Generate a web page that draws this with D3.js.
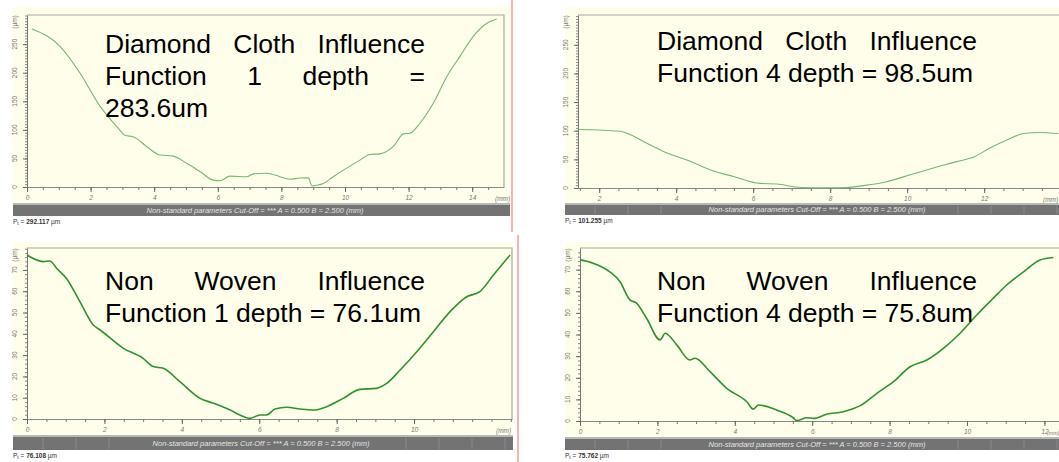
<!DOCTYPE html>
<html>
<head>
<meta charset="utf-8">
<script src="https://cdn.jsdelivr.net/npm/d3@7/dist/d3.min.js"></script>
<style>
  body { margin: 0; background: #fff; }
  svg { display: block; font-family: "Liberation Sans", Arial, sans-serif; }
</style>
</head>
<body>
<svg id="chart" width="1059" height="462"></svg>
<script>
// profile data (x in mm, depth in um)
const diamondF1X = [0.15, 1.04, 1.67, 2.3, 2.82, 3.1, 3.34, 3.76, 4.18, 4.6, 5.02, 5.44, 5.86, 6.07, 6.38, 6.91, 7.12, 7.54, 7.96, 8.28, 8.59, 8.85, 8.96, 9.11, 9.32, 9.63, 10.05, 10.47, 10.78, 11.1, 11.52, 11.84, 12.04, 12.36, 12.78, 13.2, 13.62, 14.04, 14.45, 14.77];
const diamondF1Y = [277, 246, 199, 141, 106, 90, 88, 71, 56, 54, 41.5, 27, 12, 11, 19, 18, 23, 24, 18, 13.5, 15.8, 16, 2, 3, 6, 18, 33, 47, 57, 58, 71, 93, 94, 112, 147, 193, 229, 264, 286, 294];

const diamondF4X = [1.46, 2.55, 2.81, 3.24, 3.76, 4.28, 4.88, 5.49, 6.18, 6.62, 7.22, 7.91, 8.43, 8.95, 9.47, 10.08, 10.68, 11.29, 11.76, 12.15, 12.59, 13.02, 13.45, 13.93];
const diamondF4Y = [102, 99, 93, 78, 61, 49, 32, 20, 8, 7, 1, 0.5, 1, 5, 11, 23, 35, 46, 55, 70, 84, 95, 97, 95];

const wovenF1X = [0, 0.42, 0.59, 0.77, 1.02, 1.37, 1.72, 1.89, 2.49, 3.0, 3.26, 3.52, 3.95, 4.47, 4.82, 5.25, 5.5, 5.76, 6.02, 6.19, 6.41, 6.71, 7.05, 7.4, 7.74, 8.17, 8.6, 9.03, 9.29, 9.64, 10.07, 10.5, 10.93, 11.36, 11.7, 12.05, 12.48];
const wovenF1Y = [77, 73.9, 74.2, 70.7, 66, 55, 44, 41.8, 33.2, 28.5, 24.6, 23.8, 17.5, 9.7, 7.4, 4.2, 1.9, 0.3, 1.9, 1.9, 4.7, 5.5, 4.7, 4.2, 5.8, 9.7, 13.9, 14.4, 16.7, 23, 31.6, 41, 50.4, 57.4, 59.8, 67.6, 77];

const wovenF4X = [0, 0.34, 0.77, 1.03, 1.29, 1.46, 1.72, 2.07, 2.2, 2.5, 2.84, 2.97, 3.36, 3.79, 4.31, 4.48, 4.61, 5.08, 5.51, 5.6, 5.86, 6.03, 6.37, 6.8, 7.24, 7.67, 8.1, 8.53, 8.96, 9.39, 9.82, 10.25, 10.68, 11.03, 11.46, 11.89, 12.23];
const wovenF4Y = [74.5, 73, 69, 64.5, 56, 54.5, 47.5, 37.5, 40.6, 35.2, 28.2, 29, 22.8, 15.1, 8.9, 5.5, 7.4, 5.1, 1.5, 0.2, 1.5, 1.2, 3.1, 4.3, 7.1, 12.8, 18.2, 25.1, 28.2, 33.6, 40.6, 49, 56.8, 63, 69, 74.5, 75.6];

const titles = [
    ["Diamond Cloth Influence", "Function 1 depth =", "283.6um"],
    ["Diamond Cloth Influence", "Function 4 depth = 98.5um"],
    ["Non Woven Influence", "Function 1 depth = 76.1um"],
    ["Non Woven Influence", "Function 4 depth = 75.8um"]
];
const ptValues = ["292.117", "101.255", "76.108", "75.762"];
const topYTicks = [0, 50, 100, 150, 200, 250];
const bottomYTicks = [0, 10, 20, 30, 40, 50, 60, 70];
const xTickLabels = [0, 2, 4, 6, 8, 10, 12, 14];
const barText = "Non-standard parameters  Cut-Off = ***  A = 0.500  B = 2.500 (mm)";

const svg = d3.select("#chart");

/* ------------------------------------------------------------------
   Panel layout
------------------------------------------------------------------ */

const panels = [
    { xs: diamondF1X, ys: diamondF1Y, title: titles[0], pt: ptValues[0],
      bg: [13, 7, 497, 196], px: [27, 504], py: [15, 187],
      xDom: [0, 15], yDom: [0, 301], yTicks: topYTicks, yMinor: 5,
      bar: [203, 13], barMid: 255, segs: false, mmX: 495, mmSize: 6.5,
      textX: 105, textW: 320, base: [53, 85, 117],
      line: "#73b873", lw: 1.1 },
    { xs: diamondF4X, ys: diamondF4Y, title: titles[1], pt: ptValues[1],
      bg: [565, 7, 500, 196], px: [578, 1070], py: [15, 188],
      xDom: [1.45, 14.23], yDom: [0, 302], yTicks: topYTicks, yMinor: 5,
      bar: [203, 12], barMid: 817, segs: true, mmX: 1043, mmSize: 6.5,
      textX: 657, textW: 320, base: [50, 82],
      line: "#73b873", lw: 1.1 },
    { xs: wovenF1X, ys: wovenF1Y, title: titles[2], pt: ptValues[2],
      bg: [13, 242, 500, 193], px: [27, 512], py: [248, 419],
      xDom: [0, 12.53], yDom: [0, 80.3], yTicks: bottomYTicks, yMinor: 2,
      bar: [435, 15], barMid: 261, segs: true, mmX: 496, mmSize: 6.5,
      textX: 105, textW: 320, base: [290, 322],
      line: "#2f922f", lw: 1.6 },
    { xs: wovenF4X, ys: wovenF4Y, title: titles[3], pt: ptValues[3],
      bg: [565, 242, 500, 195], px: [580, 1075], py: [248, 421],
      xDom: [0, 12.79], yDom: [0, 80], yTicks: bottomYTicks, yMinor: 2,
      bar: [437, 13], barMid: 817, segs: true, mmX: 1047, mmSize: 5.3,
      textX: 657, textW: 320, base: [290, 322],
      line: "#2f922f", lw: 1.6 }
];

panels.forEach(drawPanel);

// red separators
svg.append("line").attr("x1", 512).attr("x2", 512).attr("y1", 0).attr("y2", 232)
    .attr("stroke", "#f08080").attr("stroke-width", 1.2);
svg.append("line").attr("x1", 518).attr("x2", 518).attr("y1", 235).attr("y2", 462)
    .attr("stroke", "#f08080").attr("stroke-width", 1.2);

function drawPanel(p) {
    const g = svg.append("g");
    const [bx, by, bw, bh] = p.bg;

    g.append("rect").attr("x", bx).attr("y", by).attr("width", bw).attr("height", bh)
        .attr("fill", "#fefeea");

    const x = d3.scaleLinear().domain(p.xDom).range(p.px);
    const y = d3.scaleLinear().domain(p.yDom).range([p.py[1], p.py[0]]);

    // frame (top + right)
    g.append("path")
        .attr("d", `M${p.px[0]},${p.py[0]}H${p.px[1]}V${p.py[1]}`)
        .attr("fill", "none").attr("stroke", "#a8a8a0").attr("stroke-width", 1.2);

    // y axis: major + minor
    const yMinorTicks = d3.range(p.yDom[0], p.yDom[1], p.yMinor);
    g.append("g")
        .attr("transform", `translate(${p.px[0]},0)`)
        .call(d3.axisLeft(y).tickValues(yMinorTicks).tickSize(2).tickSizeOuter(0).tickFormat(""))
        .call(a => a.select(".domain").attr("stroke", "#777"))
        .call(a => a.selectAll(".tick line").attr("stroke", "#888"));
    g.append("g")
        .attr("transform", `translate(${p.px[0]},0)`)
        .call(d3.axisLeft(y).tickValues(p.yTicks).tickSize(4).tickFormat(""))
        .call(a => a.select(".domain").remove())
        .call(a => a.selectAll(".tick line").attr("stroke", "#666"));
    p.yTicks.forEach(t => {
        g.append("text")
            .attr("transform", `translate(${p.px[0] - 10},${y(t)}) rotate(-90)`)
            .attr("text-anchor", "middle")
            .attr("font-size", 6.5).attr("fill", "#777")
            .text(t);
    });
    g.append("text")
        .attr("transform", `translate(${p.px[0] - 10},${p.py[0] + 7}) rotate(-90)`)
        .attr("text-anchor", "middle")
        .attr("font-size", 6.5).attr("fill", "#777")
        .text("(µm)");

    // x axis
    const xStart = Math.ceil(p.xDom[0] * 2) / 2;
    const xMinorTicks = d3.range(xStart, p.xDom[1], 0.5);
    const xMajor = xTickLabels.filter(t => t >= p.xDom[0] && t <= p.xDom[1] - 0.6);
    g.append("g")
        .attr("transform", `translate(0,${p.py[1]})`)
        .call(d3.axisBottom(x).tickValues(xMinorTicks).tickSize(3).tickSizeOuter(0).tickFormat(""))
        .call(a => a.select(".domain").attr("stroke", "#888"))
        .call(a => a.selectAll(".tick line").attr("stroke", "#777"));
    g.append("g")
        .attr("transform", `translate(0,${p.py[1]})`)
        .call(d3.axisBottom(x).tickValues(xMajor).tickSize(5).tickPadding(3).tickFormat(d => d))
        .call(a => a.select(".domain").remove())
        .call(a => a.selectAll(".tick line").attr("stroke", "#666"))
        .call(a => a.selectAll(".tick text")
            .attr("font-size", 6.5).attr("font-style", "italic")
            .attr("fill", "#777").attr("font-family", "Liberation Sans, Arial, sans-serif"));
    g.append("text")
        .attr("x", p.mmX).attr("y", p.py[1] + 14)
        .attr("font-size", p.mmSize).attr("font-style", "italic").attr("fill", "#777")
        .text("(mm)");

    // profile line
    const pts = p.xs.map((v, i) => [v, p.ys[i]]);
    g.append("path")
        .datum(pts)
        .attr("d", d3.line().x(d => x(d[0])).y(d => y(d[1])).curve(d3.curveMonotoneX))
        .attr("fill", "none")
        .attr("stroke", p.line)
        .attr("stroke-width", p.lw)
        .attr("stroke-linejoin", "round");

    // gray parameters bar
    const [barY, barH] = p.bar;
    g.append("rect").attr("x", bx).attr("y", barY).attr("width", bw).attr("height", barH)
        .attr("fill", "#737373");
    g.append("rect").attr("x", bx).attr("y", barY).attr("width", bw).attr("height", 2)
        .attr("fill", "#b8b8b8");
    if (p.segs) {
        const segXs = d3.range(bx + 30, bx + bw, 33)
            .filter(v => Math.abs(v - p.barMid) > 130);
        g.selectAll(null).data(segXs).enter().append("line")
            .attr("x1", d => d).attr("x2", d => d)
            .attr("y1", barY + 3).attr("y2", barY + barH - 1)
            .attr("stroke", "#8c8c8c");
    }
    g.append("text")
        .attr("x", p.barMid).attr("y", barY + barH / 2 + 3)
        .attr("text-anchor", "middle")
        .attr("font-size", 7.5).attr("font-style", "italic").attr("fill", "#e4e4e4")
        .text(barText);

    // Pt value
    const ptText = g.append("text")
        .attr("x", bx).attr("y", barY + barH + 8)
        .attr("font-size", 6.5).attr("fill", "#333");
    ptText.append("tspan").text("P");
    ptText.append("tspan").attr("font-size", 5).attr("dy", 1).text("t");
    ptText.append("tspan").attr("dy", -1).text(" = ");
    ptText.append("tspan").attr("font-weight", "bold").text(p.pt);
    ptText.append("tspan").text(" µm");

    // overlaid title, justified like the original text box
    p.title.forEach((ln, i) => {
        const justify = i < p.title.length - 1;
        drawLine(g, ln, p.textX, p.textW, p.base[i], justify);
    });
}

function drawLine(g, str, x0, width, baseline, justify) {
    const words = str.split(" ");
    const t = g.append("g")
        .attr("font-size", 26.5).attr("fill", "#000")
        .attr("font-family", "Liberation Sans, Arial, sans-serif");
    if (!justify || words.length < 2) {
        t.append("text").attr("x", x0).attr("y", baseline).text(str);
        return;
    }
    const nodes = words.map(w => t.append("text").attr("y", baseline).text(w));
    const widths = nodes.map(n => n.node().getComputedTextLength());
    const gap = (width - d3.sum(widths)) / (words.length - 1);
    let cx = x0;
    nodes.forEach((n, i) => {
        n.attr("x", cx);
        cx += widths[i] + gap;
    });
}
</script>
</body>
</html>
